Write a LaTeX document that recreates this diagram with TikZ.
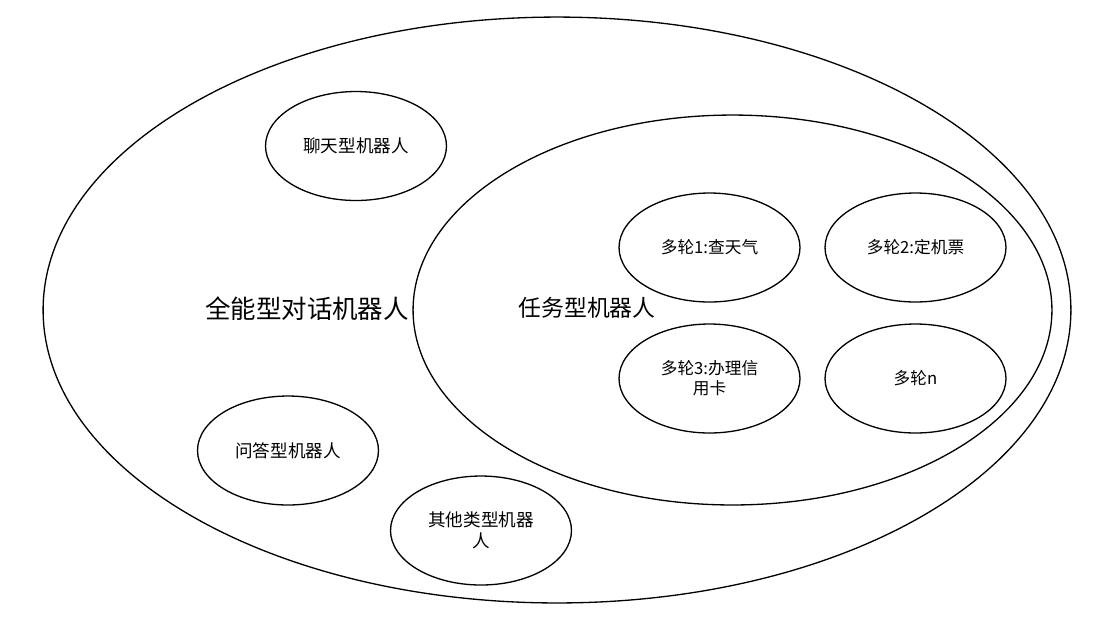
\documentclass[tikz,border=0pt]{standalone}
\usepackage{fontspec}
\setmainfont{Noto Sans CJK SC}
\usetikzlibrary{shapes.geometric}

\begin{document}
\begin{tikzpicture}
    [x=0.02cm,y=-0.02cm,
    group/.style={
      ellipse,
      draw=black,
      line width=0.75pt,
      inner sep=0pt
    },
    bot/.style={
      ellipse,
      draw=black,
      line width=0.75pt,
      inner sep=0pt,
      minimum width=3.62cm,
      minimum height=2.18cm,
      align=center,
      font=\fontsize{10}{12}\selectfont
    },
    turn/.style={
      bot,
      font=\fontsize{9.5}{11.3}\selectfont
    },
    title/.style={
      inner sep=0pt,
      font=\fontsize{14.5}{17}\selectfont
    }
  ]
    \useasboundingbox (0,0) rectangle (1111,627);
    \path (557,310) node[group,minimum width=20.56cm,minimum height=11.72cm] (ALL) {}
          (732.5,310) node[group,minimum width=12.78cm,minimum height=7.8cm] (TASK) {};
    \draw (307,309) node[title] (LABEL1) {全能型对话机器人};
    \draw (587,308) node[title,font=\fontsize{13}{15}\selectfont] (LABEL2) {任务型机器人};
    \path (356,146) node[bot] (CHAT) {聊天型机器人}
          (288,450.5) node[bot] (QA) {问答型机器人}
          (481,530.5) node[bot] (OTHER) {其他类型机器\\人};
    \path (709.5,247.5) node[turn] (T1) {多轮1:查天气}
          (915.5,247.5) node[turn] (T2) {多轮2:定机票}
          (709.5,378.5) node[turn] (T3) {多轮3:办理信\\用卡}
          (915.5,378.5) node[turn] (TN) {多轮n};
\end{tikzpicture}
\end{document}
